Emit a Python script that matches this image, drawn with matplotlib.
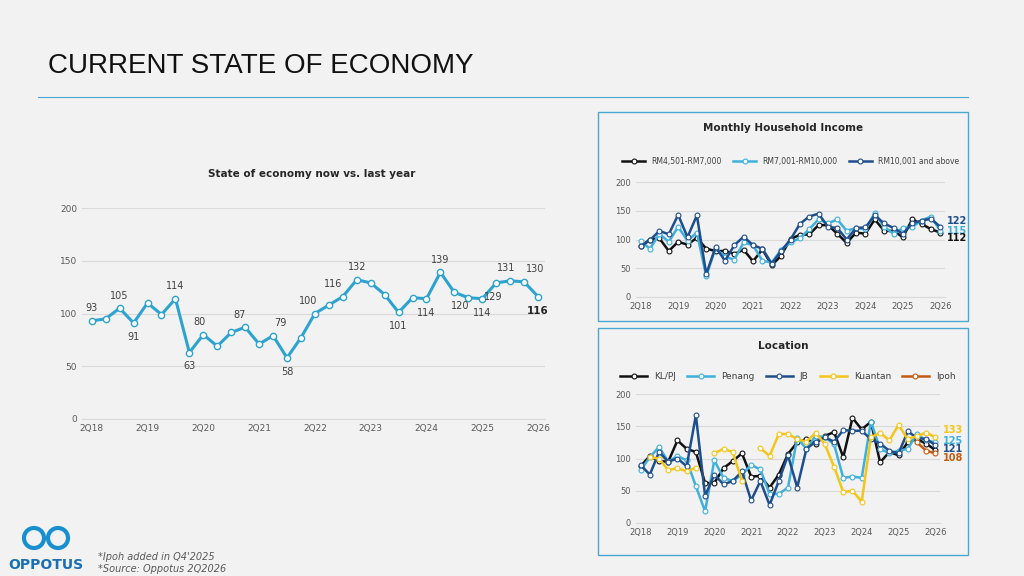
import matplotlib
matplotlib.use("Agg")
import matplotlib.pyplot as plt
import numpy as np
from matplotlib.patches import Rectangle, Circle
from matplotlib.transforms import IdentityTransform

nan = np.nan
tick_labels = [f"2Q{y:02d}" for y in range(18, 27)]

economy = [93, 95, 105, 91, 110, 99, 114, 63, 80, 69, 82, 87, 71, 79, 58, 77, 100, 108, 116,
           132, 129, 118, 101, 115, 114, 139, 120, 115, 114, 129, 131, 130, 116]
econ_labels = {0: 93, 2: 105, 3: 91, 6: 114, 7: 63, 8: 80, 11: 87, 13: 79, 14: 58, 16: 100, 18: 116,
               19: 132, 22: 101, 24: 114, 25: 139, 26: 120, 28: 114, 29: 129, 30: 131, 31: 130}

inc_low = [88, 100, 102, 80, 96, 91, 103, 84, 80, 80, 75, 82, 62, 83, 55, 72, 101, 108, 109, 125,
           125, 110, 94, 112, 110, 135, 115, 115, 104, 135, 127, 118, 112]
inc_mid = [97, 84, 110, 96, 122, 98, 112, 36, 85, 70, 65, 95, 90, 63, 60, 82, 95, 102, 118, 135,
           128, 135, 115, 120, 118, 146, 122, 110, 120, 122, 133, 140, 115]
inc_high = [88, 99, 115, 109, 143, 104, 142, 40, 87, 63, 90, 105, 90, 84, 58, 80, 100, 127, 140, 145,
            122, 120, 100, 120, 121, 142, 128, 120, 110, 128, 133, 136, 122]

klpj = [88, 104, 96, 95, 128, 115, 110, 62, 62, 85, 96, 108, 72, 73, 55, 75, 107, 125, 130, 123,
        135, 141, 102, 163, 145, 157, 94, 110, 105, 125, 130, 123, 113]
penang = [82, 102, 118, 95, 104, 97, 57, 18, 97, 70, 65, 75, 90, 83, 45, 45, 55, 132, 115, 135,
          133, 122, 70, 72, 70, 157, 115, 108, 112, 115, 138, 128, 125]
jb = [90, 75, 110, 95, 100, 88, 167, 42, 75, 60, 65, 80, 35, 65, 28, 65, 105, 55, 115, 126,
      133, 126, 144, 143, 143, 130, 123, 112, 108, 142, 132, 130, 121]
kuantan = [nan, 102, 100, 82, 85, 80, 86, nan, 108, 115, 110, 65, nan, 116, 104, 138, 138, 130, 126, 140,
           122, 87, 48, 50, 33, 133, 140, 128, 152, 130, 135, 140, 133]
ipoh = [nan] * 30 + [125, 112, 108]

BG = "#f2f2f2"
fig = plt.figure(figsize=(10.24, 5.76), dpi=100, facecolor=BG)
W, H = 1024, 576

def ax_px(x0, y0, x1, y1):
    return fig.add_axes([x0 / W, 1 - y1 / H, (x1 - x0) / W, (y1 - y0) / H])

fig.text(48 / W, 1 - 66 / H, "CURRENT STATE OF ECONOMY", fontsize=20, color="#111111", va="center",
         family="Liberation Sans")
fig.add_artist(plt.Line2D([38 / W, 968 / W], [1 - 97 / H] * 2, color="#4aa8d0", lw=0.8))

for (x0, y0, x1, y1) in [(598, 112, 968, 321), (598, 328, 968, 555)]:
    fig.add_artist(Rectangle((x0 / W, 1 - y1 / H), (x1 - x0) / W, (y1 - y0) / H,
                             fill=False, ec="#4aa8d0", lw=1, transform=fig.transFigure))

x = np.arange(33)

def style(ax, fs):
    ax.set_facecolor(BG)
    ax.set_ylim(0, 200)
    ax.set_yticks([0, 50, 100, 150, 200])
    ax.set_xlim(-0.5, 32.5)
    ax.set_xticks(range(0, 33, 4))
    ax.set_xticklabels(tick_labels)
    ax.grid(axis="y", color="#d9d9d9", lw=0.8)
    ax.set_axisbelow(True)
    for s in ["top", "right", "left"]:
        ax.spines[s].set_visible(False)
    ax.spines["bottom"].set_color("#d9d9d9")
    ax.tick_params(length=0, labelsize=fs, colors="#595959")

ax = ax_px(82, 208, 545, 419)
style(ax, 6.5)
ax.set_xlim(-0.7, 32.5)
ax.plot(x, economy, color="#2ea3cf", lw=2.2, marker="o", ms=4.5, mfc="white", mec="#2ea3cf", mew=1)
up_set = (0, 2, 6, 8, 11, 13, 16, 18, 19, 25, 30, 31)
dx_map = {8: -0.3, 16: -0.5, 18: -0.7, 11: -0.4, 29: -0.2, 26: 0.4, 30: -0.3, 31: 0.8, 13: 0.5}
for i, v in econ_labels.items():
    up = i in up_set
    ax.annotate(str(v), (i + dx_map.get(i, 0), economy[i]), xytext=(0, 9 if up else -10),
                textcoords="offset points", ha="center", va="center", fontsize=7, color="#404040")
ax.annotate("116", (32, 116), xytext=(0, -10), textcoords="offset points", ha="center", va="center",
            fontsize=7.5, fontweight="bold", color="#262626")
fig.text(312 / W, 1 - 174 / H, "State of economy now vs. last year", ha="center", va="center",
         fontsize=7.5, fontweight="bold", color="#262626")

ax2 = ax_px(636, 182, 945, 297)
style(ax2, 6)
for data, c, lab in [(inc_low, "#111111", "RM4,501-RM7,000"), (inc_mid, "#3fb0dc", "RM7,001-RM10,000"),
                     (inc_high, "#1f4e8c", "RM10,001 and above")]:
    ax2.plot(x, data, color=c, lw=1.8, marker="o", ms=3.5, mfc="white", mec=c, mew=0.8, label=lab)
for v, c, dy in [(122, "#1f4e8c", 4), (115, "#3fb0dc", 0), (112, "#111111", -4)]:
    ax2.annotate(str(v), (32, v), xytext=(12, dy), textcoords="offset points", ha="center", va="center",
                 fontsize=7, fontweight="bold", color=c)
ax2.legend(loc="lower center", bbox_to_anchor=(0.5, 1.08), ncol=3, frameon=False, fontsize=5.5,
           handlelength=3, columnspacing=1.5, labelcolor="#404040")
fig.text(783 / W, 1 - 128 / H, "Monthly Household Income", ha="center", va="center",
         fontsize=7.5, fontweight="bold", color="#262626")

ax3 = ax_px(636, 394, 940, 523)
style(ax3, 6)
for data, c, lab in [(klpj, "#111111", "KL/PJ"), (penang, "#3fb0dc", "Penang"), (jb, "#1f4e8c", "JB"),
                     (kuantan, "#f5c518", "Kuantan"), (ipoh, "#c55a11", "Ipoh")]:
    ax3.plot(x, data, color=c, lw=1.8, marker="o", ms=3.5, mfc="white", mec=c, mew=0.8, label=lab)
for v, c, dy in [(133, "#f5c518", 5), (125, "#3fb0dc", 1), (121, "#1f4e8c", -3), (108, "#c55a11", -3)]:
    ax3.annotate(str(v), (32, v), xytext=(13, dy), textcoords="offset points", ha="center", va="center",
                 fontsize=7, fontweight="bold", color=c)
ax3.legend(loc="lower center", bbox_to_anchor=(0.5, 1.04), ncol=5, frameon=False, fontsize=6.5,
           handlelength=3, columnspacing=1.2, labelcolor="#404040")
fig.text(783 / W, 1 - 346 / H, "Location", ha="center", va="center",
         fontsize=7.5, fontweight="bold", color="#262626")

for cx in (34, 58):
    fig.add_artist(Circle((cx, H - 538), 10, fill=False, ec="#1a8fd0", lw=3,
                          transform=IdentityTransform()))
fig.text(46 / W, 1 - 565 / H, "OPPOTUS", ha="center", va="center", fontsize=10, fontweight="bold",
         color="#1a6fb5")
fig.text(98 / W, 1 - 557 / H, "*Ipoh added in Q4'2025", fontsize=7, style="italic", color="#595959",
         va="center")
fig.text(98 / W, 1 - 569 / H, "*Source: Oppotus 2Q2026", fontsize=7, style="italic", color="#595959",
         va="center")

fig.savefig("out.png", dpi=100, facecolor=BG)
